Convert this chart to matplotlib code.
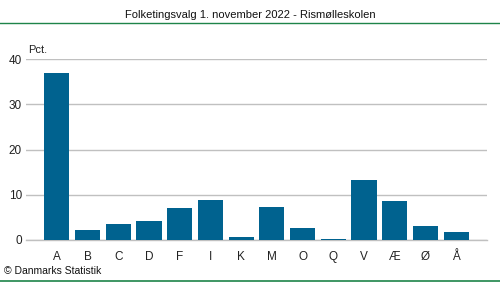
import matplotlib
matplotlib.use("Agg")
import matplotlib.pyplot as plt
from matplotlib.lines import Line2D

plt.rcParams['font.family'] = ['Liberation Sans', 'DejaVu Sans']

categories = ["A", "B", "C", "D", "F", "I", "K", "M", "O", "Q", "V", "Æ", "Ø", "Å"]
values = [36.9, 2.2, 3.5, 4.2, 7.1, 8.85, 0.66, 7.3, 2.65, 0.2, 13.3, 8.6, 3.1, 1.8]
yticks = [0, 10, 20, 30, 40]

W, H = 500, 282
fig = plt.figure(figsize=(W / 100, H / 100), dpi=100)
ax = fig.add_axes([26 / W, 1 - 240 / H, (487 - 26) / W, (240 - 59.3) / H])

x = list(range(len(categories)))
ax.bar(x, values, width=0.82, color="#00628f", zorder=3)
ax.set_xlim(-1, 14)
ax.set_ylim(0, 40)
ax.set_yticks(yticks)
ax.set_xticks(x)
ax.set_xticklabels(categories)
ax.grid(axis="y", color="#c0c0c0", linewidth=1, zorder=0)
ax.tick_params(axis="both", length=0, labelsize=8.5, colors="#222222")
ax.tick_params(axis="x", pad=8)
ax.tick_params(axis="y", pad=3)
for s in ["top", "right", "left"]:
    ax.spines[s].set_visible(False)
ax.spines["bottom"].set_color("#c0c0c0")
ax.spines["bottom"].set_linewidth(1)

fig.text(28 / W, 1 - 50 / H, "Pct.", fontsize=8, va="center", ha="left", color="#222222")
fig.text(0.5, 1 - 15 / H, "Folketingsvalg 1. november 2022 - Rismølleskolen", fontsize=8,
         ha="center", va="center", color="#111111")
fig.add_artist(Line2D([0, 1], [1 - 22.5 / H, 1 - 22.5 / H], transform=fig.transFigure,
                      color="#1e8449", linewidth=1))
fig.add_artist(Line2D([0, 1], [1 - 281 / H, 1 - 281 / H], transform=fig.transFigure,
                      color="#1e8449", linewidth=1.2))
fig.text(4 / W, 1 - 271 / H, "© Danmarks Statistik", fontsize=7.5, ha="left", va="center",
         color="#111111")

fig.savefig("out.png", dpi=100)
